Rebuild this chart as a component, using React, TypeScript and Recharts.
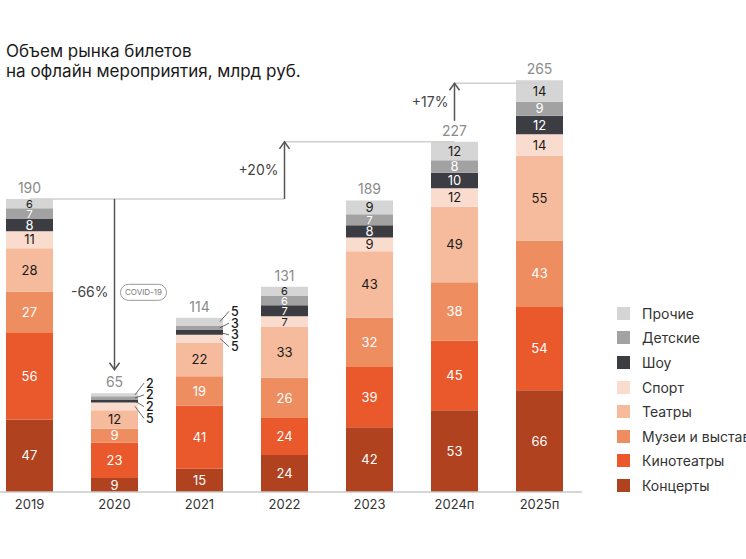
import React from "react";
import { BarChart, Bar, XAxis, YAxis, ReferenceLine, LabelList } from "recharts";

const years = ["2019", "2020", "2021", "2022", "2023", "2024п", "2025п"];
const totals = [190, 65, 114, 131, 189, 227, 265];

const concerts = [47, 9, 15, 24, 42, 53, 66];
const cinemas = [56, 23, 41, 24, 39, 45, 54];
const museums = [27, 9, 19, 26, 32, 38, 43];
const theatres = [28, 12, 22, 33, 43, 49, 55];
const sport = [11, 5, 5, 7, 9, 12, 14];
const shows = [8, 2, 3, 7, 8, 10, 12];
const kids = [7, 2, 3, 6, 7, 8, 9];
const other = [6, 2, 5, 6, 9, 12, 14];

// bottom to top
const series = [
  { key: "concerts", name: "Концерты", values: concerts, color: "#B0421F", text: "#fff" },
  { key: "cinemas", name: "Кинотеатры", values: cinemas, color: "#E9592C", text: "#fff" },
  { key: "museums", name: "Музеи и выставки", values: museums, color: "#EE8E60", text: "#fff" },
  { key: "theatres", name: "Театры", values: theatres, color: "#F5BB9C", text: "#1a1a1a" },
  { key: "sport", name: "Спорт", values: sport, color: "#FADCCF", text: "#1a1a1a" },
  { key: "shows", name: "Шоу", values: shows, color: "#3C3D42", text: "#fff" },
  { key: "kids", name: "Детские", values: kids, color: "#A2A2A2", text: "#fff" },
  { key: "other", name: "Прочие", values: other, color: "#D5D5D5", text: "#1a1a1a" },
];

// thin segments whose labels sit outside the bar, top to bottom
const outsideYears = ["2020", "2021"];
const outsideKeys = ["other", "kids", "shows", "sport"];

const data = years.map((year, i) => {
  const row: any = { year, total: totals[i] };
  series.forEach((s) => (row[s.key] = s.values[i]));
  return row;
});

const segmentLabel = (s: any, si: number) => (props: any) => {
  const vb = props.viewBox || props;
  const { x, y, width, height } = vb;
  const { value, index } = props;
  const cy = y + height / 2;
  const rank = outsideKeys.indexOf(s.key);
  if (outsideYears.includes(years[index]) && rank >= 0) {
    // stack the four labels next to the group of thin segments
    const k = height / value;
    const above = series.slice(si + 1).reduce((a, t) => a + t.values[index], 0);
    const groupTop = y - above * k;
    const groupH = outsideKeys.reduce((a, key) => a + series.find((t) => t.key === key)!.values[index], 0) * k;
    const ty = groupTop + groupH / 2 - 1 + (rank - 1.5) * 11.8;
    const x0 = x + width;
    return (
      <g>
        <line x1={x0 - 3} y1={cy} x2={x0 + 6} y2={ty} stroke="#444" strokeWidth={0.8} />
        <text x={x0 + 8} y={ty} dy="0.36em" fontSize={12.5} fontWeight={500} fill="#1a1a1a">
          {value}
        </text>
      </g>
    );
  }
  return (
    <text
      x={x + width / 2}
      y={cy}
      dy="0.36em"
      textAnchor="middle"
      fontSize={height < 11 ? 11 : 13}
      fill={s.text}
    >
      {value}
    </text>
  );
};

const totalLabel = (props: any) => {
  const vb = props.viewBox || props;
  return (
    <text x={vb.x + vb.width / 2} y={vb.y - 6} textAnchor="middle" fontSize={14} fill="#8c8c8c">
      {props.value}
    </text>
  );
};

const arrow =
  (label: string, opts: { trimStart?: number; trimEnd?: number; shift?: number; pill?: string }) =>
  (p: any) => {
    const { x1, y1, y2 } = p;
    const dir = y2 < y1 ? -1 : 1;
    const sy = y1 + dir * (opts.trimStart || 0);
    const ey = y2 - dir * (opts.trimEnd || 0);
    const my = (sy + ey) / 2 + (opts.shift || 0);
    return (
      <g>
        <line x1={x1} y1={sy} x2={x1} y2={ey} stroke="#555" strokeWidth={1.5} />
        <polyline
          points={`${x1 - 5},${ey - dir * 7} ${x1},${ey} ${x1 + 5},${ey - dir * 7}`}
          fill="none"
          stroke="#555"
          strokeWidth={1.5}
        />
        <text x={x1 - 6} y={my} dy="0.36em" textAnchor="end" fontSize={14} fill="#444">
          {label}
        </text>
        {opts.pill && (
          <g>
            <rect x={x1 + 6} y={my - 8} width={46} height={16} rx={8} fill="none" stroke="#9a9a9a" strokeWidth={1} />
            <text x={x1 + 29} y={my} dy="0.36em" textAnchor="middle" fontSize={8} fill="#777">
              {opts.pill}
            </text>
          </g>
        )}
      </g>
    );
  };

export default function App() {
  return (
    <div
      style={{
        position: "absolute",
        top: 0,
        left: 0,
        width: 746,
        height: 559,
        overflow: "hidden",
        background: "#fff",
        fontFamily: "Inter, 'Noto Sans', sans-serif",
      }}
    >
      <div style={{ position: "absolute", left: 6, top: 41, fontSize: 17, lineHeight: "20px", color: "#1a1a1a" }}>
        Объем рынка билетов
        <br />
        на офлайн мероприятия, млрд руб.
      </div>

      <div style={{ position: "absolute", left: -13, top: 0 }}>
        <BarChart width={760} height={559} data={data} margin={{ top: 20, right: 165, left: 0, bottom: 37 }}>
          <XAxis
            dataKey="year"
            height={30}
            interval={0}
            tickLine={false}
            axisLine={{ stroke: "#c8c8c8", strokeWidth: 1.5 }}
            tick={{ fill: "#333", fontSize: 13 }}
          />
          <YAxis hide domain={[0, 306]} />
          {series.map((s, si) => (
            <Bar key={s.key} dataKey={s.key} stackId="a" fill={s.color} barSize={47} isAnimationActive={false}>
              <LabelList dataKey={s.key} content={segmentLabel(s, si)} />
              {s.key === "other" && <LabelList dataKey="total" content={totalLabel} />}
            </Bar>
          ))}
          <ReferenceLine
            segment={[
              { x: years[0], y: totals[0] },
              { x: years[3], y: totals[0] },
            ]}
            stroke="#d0d0d0"
            strokeWidth={1.5}
          />
          <ReferenceLine
            segment={[
              { x: years[3], y: totals[5] },
              { x: years[5], y: totals[5] },
            ]}
            stroke="#d0d0d0"
            strokeWidth={1.5}
          />
          <ReferenceLine
            segment={[
              { x: years[5], y: totals[6] },
              { x: years[6], y: totals[6] },
            ]}
            stroke="#d0d0d0"
            strokeWidth={1.5}
          />
          <ReferenceLine
            segment={[
              { x: years[1], y: totals[0] },
              { x: years[1], y: totals[1] },
            ]}
            shape={arrow("-66%", { trimEnd: 22, shift: 8, pill: "COVID-19" })}
          />
          <ReferenceLine
            segment={[
              { x: years[3], y: totals[0] },
              { x: years[3], y: totals[5] },
            ]}
            shape={arrow("+20%", {})}
          />
          <ReferenceLine
            segment={[
              { x: years[5], y: totals[5] },
              { x: years[5], y: totals[6] },
            ]}
            shape={arrow("+17%", { trimStart: 21 })}
          />
        </BarChart>
      </div>

      <div style={{ position: "absolute", left: 617, top: 301 }}>
        {[...series].reverse().map((s) => (
          <div key={s.key} style={{ display: "flex", alignItems: "center", height: 24.6, whiteSpace: "nowrap" }}>
            <div style={{ width: 13, height: 13, background: s.color, marginRight: 12 }} />
            <span style={{ fontSize: 14, color: "#333" }}>{s.name}</span>
          </div>
        ))}
      </div>
    </div>
  );
}
